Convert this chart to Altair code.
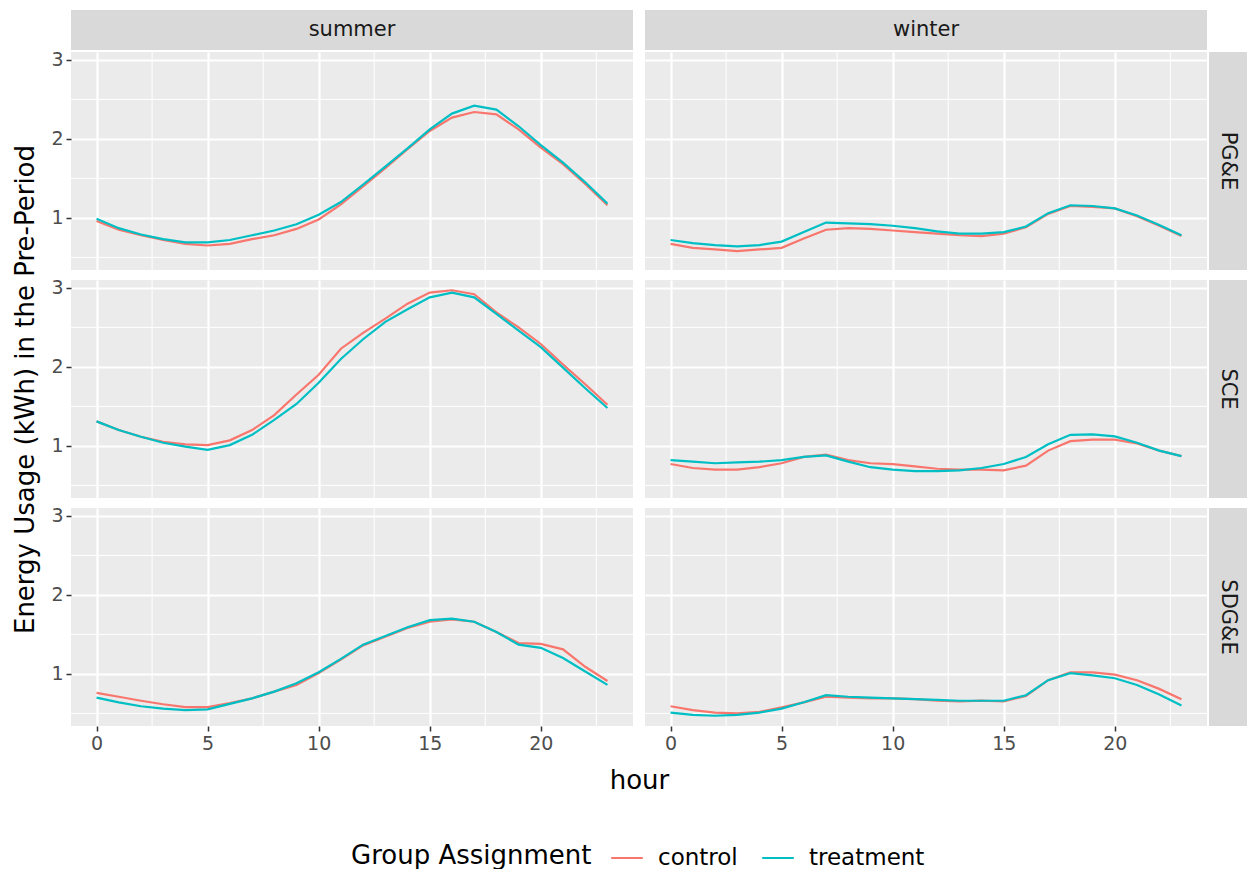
import altair as alt
import pandas as pd

hours = list(range(24))
seasons = ["summer", "winter"]
utilities = ["PG&E", "SCE", "SDG&E"]
groups = ["control", "treatment"]
group_colors = ["#F8766D", "#00BFC4"]

x_major = [0, 5, 10, 15, 20]
x_minor = [2.5, 7.5, 12.5, 17.5, 22.5]
y_major = [1, 2, 3]
y_minor = [0.5, 1.5, 2.5]

pge_summer_control = [0.96, 0.85, 0.78, 0.72, 0.67, 0.65, 0.67, 0.73, 0.78, 0.86, 0.98, 1.17, 1.40, 1.63, 1.87, 2.10, 2.27, 2.34, 2.31, 2.12, 1.89, 1.68, 1.43, 1.16]
pge_summer_treatment = [0.99, 0.87, 0.79, 0.73, 0.69, 0.69, 0.72, 0.78, 0.84, 0.92, 1.04, 1.20, 1.42, 1.65, 1.88, 2.12, 2.32, 2.42, 2.37, 2.16, 1.92, 1.70, 1.45, 1.18]
pge_winter_control = [0.67, 0.62, 0.60, 0.58, 0.60, 0.62, 0.74, 0.85, 0.87, 0.86, 0.84, 0.82, 0.80, 0.78, 0.77, 0.80, 0.88, 1.05, 1.15, 1.14, 1.12, 1.02, 0.90, 0.77]
pge_winter_treatment = [0.72, 0.68, 0.655, 0.64, 0.655, 0.70, 0.82, 0.94, 0.93, 0.92, 0.90, 0.87, 0.83, 0.80, 0.80, 0.82, 0.89, 1.06, 1.16, 1.15, 1.12, 1.03, 0.91, 0.78]
sce_summer_control = [1.31, 1.20, 1.115, 1.05, 1.02, 1.01, 1.07, 1.20, 1.39, 1.65, 1.90, 2.23, 2.43, 2.61, 2.80, 2.94, 2.97, 2.92, 2.69, 2.50, 2.29, 2.03, 1.78, 1.52]
sce_summer_treatment = [1.31, 1.20, 1.115, 1.04, 0.99, 0.95, 1.01, 1.14, 1.33, 1.53, 1.80, 2.10, 2.35, 2.57, 2.73, 2.88, 2.94, 2.88, 2.67, 2.46, 2.25, 1.99, 1.73, 1.48]
sce_winter_control = [0.77, 0.72, 0.70, 0.70, 0.73, 0.78, 0.86, 0.89, 0.82, 0.78, 0.77, 0.74, 0.71, 0.70, 0.70, 0.69, 0.75, 0.94, 1.06, 1.08, 1.08, 1.03, 0.94, 0.87]
sce_winter_treatment = [0.82, 0.80, 0.78, 0.79, 0.80, 0.82, 0.86, 0.88, 0.80, 0.73, 0.70, 0.68, 0.68, 0.69, 0.72, 0.77, 0.86, 1.02, 1.14, 1.145, 1.12, 1.04, 0.94, 0.87]
sdge_summer_control = [0.76, 0.71, 0.66, 0.615, 0.58, 0.58, 0.63, 0.69, 0.775, 0.86, 1.01, 1.18, 1.36, 1.47, 1.58, 1.66, 1.69, 1.66, 1.53, 1.39, 1.38, 1.31, 1.09, 0.91]
sdge_summer_treatment = [0.70, 0.64, 0.59, 0.56, 0.54, 0.55, 0.62, 0.69, 0.775, 0.88, 1.02, 1.19, 1.37, 1.48, 1.59, 1.68, 1.70, 1.66, 1.53, 1.37, 1.33, 1.20, 1.03, 0.86]
sdge_winter_control = [0.59, 0.54, 0.51, 0.50, 0.52, 0.575, 0.64, 0.71, 0.70, 0.69, 0.69, 0.68, 0.66, 0.65, 0.66, 0.65, 0.72, 0.92, 1.02, 1.02, 0.99, 0.92, 0.81, 0.68]
sdge_winter_treatment = [0.51, 0.48, 0.47, 0.48, 0.51, 0.56, 0.64, 0.73, 0.71, 0.70, 0.69, 0.68, 0.67, 0.66, 0.66, 0.66, 0.73, 0.92, 1.01, 0.98, 0.945, 0.86, 0.74, 0.60]

series = {
    ("summer", "PG&E"): (pge_summer_control, pge_summer_treatment),
    ("winter", "PG&E"): (pge_winter_control, pge_winter_treatment),
    ("summer", "SCE"): (sce_summer_control, sce_summer_treatment),
    ("winter", "SCE"): (sce_winter_control, sce_winter_treatment),
    ("summer", "SDG&E"): (sdge_summer_control, sdge_summer_treatment),
    ("winter", "SDG&E"): (sdge_winter_control, sdge_winter_treatment),
}

rows = []
for (season, util), (ctrl, trt) in series.items():
    for g, vals in zip(groups, (ctrl, trt)):
        for h, v in zip(hours, vals):
            rows.append({"season": season, "utility": util, "group": g, "hour": h, "usage": v})
df = pd.DataFrame(rows)

xminor_df = pd.DataFrame({"v": x_minor})
yminor_df = pd.DataFrame({"v": y_minor})

FONT = "DejaVu Sans"
PW, PH = 562, 218
STRIP = 40
BG = "#EBEBEB"
STRIP_BG = "#D9D9D9"

x_scale = alt.Scale(domain=[-1.15, 24.15], nice=False, zero=False)
y_scale = alt.Scale(domain=[0.34, 3.10], nice=False, zero=False)

legend = alt.Legend(orient="none", legendX=280, legendY=789, direction="horizontal",
                    title="Group Assignment", titleOrient="left", titleFontSize=26,
                    titleFont=FONT, titleFontWeight="normal", titleColor="black",
                    titlePadding=18, titleBaseline="middle", titleLimit=500,
                    labelFontSize=23, labelFont=FONT, labelLimit=300,
                    labelColor="black", symbolType="stroke", symbolStrokeWidth=2,
                    symbolSize=1000, columnPadding=20, labelOffset=14)


def x_axis(show, title=None):
    kw = dict(values=x_major, grid=True, gridColor="white", gridWidth=2.2,
              domain=False, labels=show, ticks=show, tickColor="#333333",
              tickSize=5, tickWidth=1.5, labelColor="#4D4D4D", labelFontSize=19,
              labelFont=FONT, labelPadding=3, format="d")
    if title:
        kw.update(title=title, titleFontSize=26, titleFont=FONT, titleFontWeight="normal",
                  titleColor="black", titleX=PW + 6, titlePadding=14)
    else:
        kw.update(title=None)
    return alt.Axis(**kw)


def y_axis(show, title=None):
    kw = dict(values=y_major, grid=True, gridColor="white", gridWidth=2.2,
              domain=False, labels=show, ticks=show, tickColor="#333333",
              tickSize=5, tickWidth=1.5, labelColor="#4D4D4D", labelFontSize=19,
              labelFont=FONT, labelPadding=3, format="d")
    if title:
        kw.update(title=title, titleFontSize=26, titleFont=FONT, titleFontWeight="normal",
                  titleColor="black", titlePadding=12)
    else:
        kw.update(title=None)
    return alt.Axis(**kw)


def top_strip_layers(label):
    d = pd.DataFrame({"label": [label]})
    box = alt.Chart(d).mark_rect(color=STRIP_BG).encode(
        x=alt.value(0), x2=alt.value(PW), y=alt.value(-STRIP - 2), y2=alt.value(-2))
    txt = alt.Chart(d).mark_text(font=FONT, fontSize=21, color="#1A1A1A",
                                 baseline="middle", align="center").encode(
        x=alt.value(PW / 2), y=alt.value(-STRIP / 2 - 2), text="label:N")
    return [box, txt]


def right_strip_layers(label):
    d = pd.DataFrame({"label": [label]})
    box = alt.Chart(d).mark_rect(color=STRIP_BG).encode(
        x=alt.value(PW + 2), x2=alt.value(PW + 40), y=alt.value(0), y2=alt.value(PH))
    txt = alt.Chart(d).mark_text(font=FONT, fontSize=21, color="#1A1A1A",
                                 baseline="middle", align="center", angle=90).encode(
        x=alt.value(PW + 21), y=alt.value(PH / 2), text="label:N")
    return [box, txt]


def panel(season, util, show_x, show_y, xtitle=None, ytitle=None, top=False, right=False):
    xa = x_axis(show_x, xtitle)
    ya = y_axis(show_y, ytitle)
    vminor = alt.Chart(xminor_df).mark_rule(color="white", strokeWidth=1).encode(
        x=alt.X("v:Q", scale=x_scale, axis=xa))
    hminor = alt.Chart(yminor_df).mark_rule(color="white", strokeWidth=1).encode(
        y=alt.Y("v:Q", scale=y_scale, axis=ya))
    lines = alt.Chart(df).transform_filter(
        (alt.datum.season == season) & (alt.datum.utility == util)
    ).mark_line(strokeWidth=2.2).encode(
        x=alt.X("hour:Q", scale=x_scale, axis=xa),
        y=alt.Y("usage:Q", scale=y_scale, axis=ya),
        color=alt.Color("group:N", scale=alt.Scale(domain=groups, range=group_colors),
                        legend=legend),
    )
    layers = [vminor, hminor, lines]
    if top:
        layers += top_strip_layers(season)
    if right:
        layers += right_strip_layers(util)
    return alt.layer(*layers).properties(
        width=PW, height=PH, view=alt.ViewBackground(fill=BG, stroke=None))


cells = []
for i, util in enumerate(utilities):
    last = i == len(utilities) - 1
    cells.append(panel("summer", util, show_x=last, show_y=True,
                       xtitle="hour" if last else None,
                       ytitle="Energy Usage (kWh) in the Pre-Period" if i == 1 else None,
                       top=(i == 0)))
    cells.append(panel("winter", util, show_x=last, show_y=False,
                       top=(i == 0), right=True))

chart = alt.concat(*cells, columns=2, spacing={"row": 10, "column": 12},
                   bounds="flush").resolve_scale(color="shared").properties(
    padding={"left": 4, "top": 2, "right": 0, "bottom": 0}, background="white"
).configure_view(stroke=None)

chart.save("out.html", embed_options={"renderer": "svg", "actions": False})
